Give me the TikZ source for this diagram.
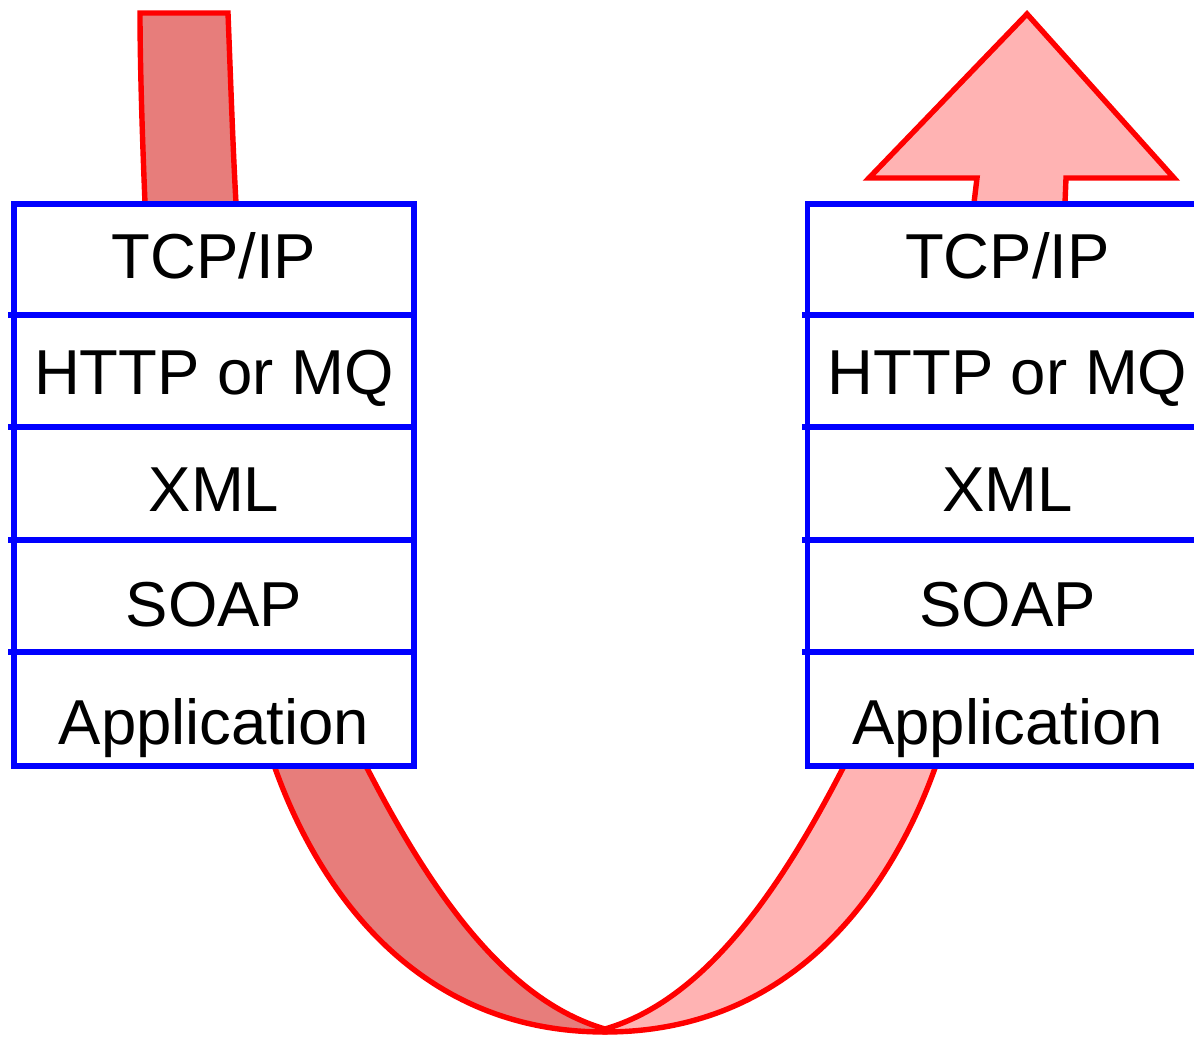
\documentclass[tikz,border=0pt]{standalone}
\usepackage{fontspec}
\setmainfont{Liberation Sans}
\definecolor{ribdark}{RGB}{231,125,123}
\definecolor{riblight}{RGB}{255,179,179}
\definecolor{ribline}{RGB}{255,0,0}
\definecolor{boxline}{RGB}{0,0,255}
\tikzset{
  ribbon/.style={draw=ribline, line width=5.4pt, line join=miter},
  stackbox/.style={draw=boxline, line width=5.4pt, fill=white},
  divider/.style={draw=boxline, line width=5.4pt},
  layertext/.style={anchor=base, inner sep=0pt, font=\fontsize{63.5}{75}\selectfont}
}
\begin{document}
\begin{tikzpicture}[x=1pt,y=-1pt]
\useasboundingbox (0,0) rectangle (1194,1038);
\clip (0,0) rectangle (1194,1038);
% left (dark) half of the ribbon
\path[ribbon, fill=ribdark]
  (140,13) -- (228,13)
  .. controls (231,90) and (233,150) .. (236,203)
  .. controls (245,450) and (320,680) .. (367,768)
  .. controls (430,890) and (505,1000) .. (605,1029)
  -- (605,1032)
  .. controls (410,1032) and (315,880) .. (275,768)
  .. controls (230,640) and (150,450) .. (145,203)
  .. controls (142,130) and (140,60) .. (140,13) -- cycle;
% right (light) half of the ribbon with arrow head
\path[ribbon, fill=riblight]
  (605,1029)
  .. controls (705,1000) and (780,890) .. (843,768)
  .. controls (890,680) and (965,450) .. (974,203)
  -- (977,178) -- (869,178) -- (1027,14) -- (1174,178) -- (1066,178)
  -- (1065,203)
  .. controls (1060,450) and (980,640) .. (935,768)
  .. controls (895,880) and (800,1032) .. (605,1032) -- cycle;
% left stack
\draw[stackbox] (14,204) rectangle (414,766);
\foreach \yy in {315,427,540,652} \draw[divider] (8,\yy) -- (414,\yy);
\node[layertext] (lt1) at (214,278) {TCP/IP};
\node[layertext] (lt2) at (214,394) {HTTP or MQ};
\node[layertext] (lt3) at (214,511.5) {XML};
\node[layertext] (lt4) at (214,626) {SOAP};
\node[layertext] (lt5) at (214,744) {Application};
% right stack
\draw[stackbox] (807.5,204) rectangle (1207.5,766);
\foreach \yy in {315,427,540,652} \draw[divider] (802,\yy) -- (1207.5,\yy);
\node[layertext] (rt1) at (1007.5,278) {TCP/IP};
\node[layertext] (rt2) at (1007.5,394) {HTTP or MQ};
\node[layertext] (rt3) at (1007.5,511.5) {XML};
\node[layertext] (rt4) at (1007.5,626) {SOAP};
\node[layertext] (rt5) at (1007.5,744) {Application};
\end{tikzpicture}
\end{document}
